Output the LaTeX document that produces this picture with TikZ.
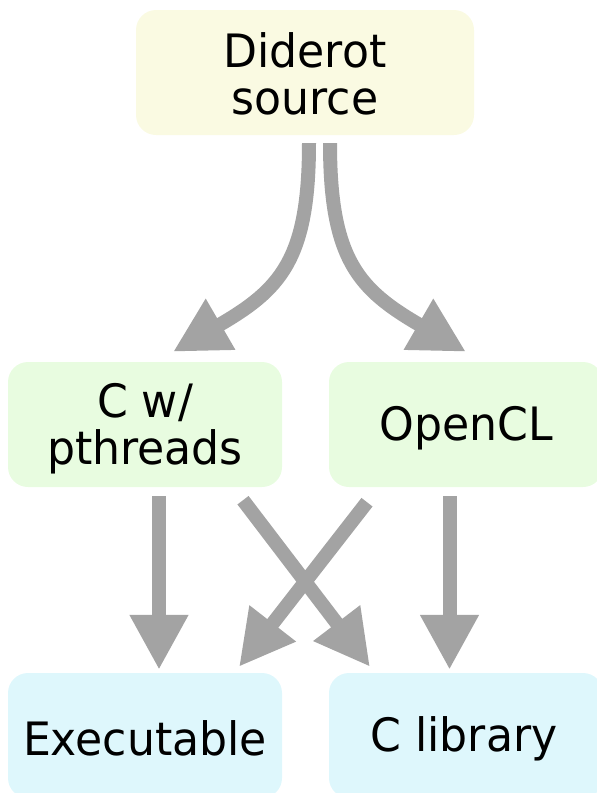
\documentclass[tikz,border=0pt]{standalone}
\usepackage{fontspec}
\setmainfont{DejaVu Sans}[FakeStretch=0.96]
\usetikzlibrary{arrows.meta}

\definecolor{srcfill}{RGB}{250,250,226}
\definecolor{midfill}{RGB}{232,252,224}
\definecolor{outfill}{RGB}{222,247,252}
\definecolor{flow}{RGB}{163,163,163}

\tikzset{
  stage/.style={rounded corners=20pt, draw=none, minimum width=274pt,
    minimum height=125pt, inner sep=0pt},
  caption/.style={inner sep=0pt, align=center,
    font=\fontsize{46}{47}\selectfont},
  flowarrow/.style={draw=flow, line width=14pt,
    -{Triangle[length=55pt,width=55pt]}},
}

\begin{document}
\begin{tikzpicture}[x=1pt,y=1pt]
  \useasboundingbox (0,0) rectangle (597,-793);
  \clip (0,0) rectangle (597,-793);

  % boxes
  \node[stage, fill=srcfill, minimum width=338pt] (src) at (305,-72.5) {};
  \node[stage, fill=midfill] (cw)  at (145,-424.5) {};
  \node[stage, fill=midfill] (ocl) at (466,-424.5) {};
  \node[stage, fill=outfill] (exe)  at (145,-735.5) {};
  \node[stage, fill=outfill] (clib) at (466,-735.5) {};

  % box texts
  \node[caption] (src-t)  at ([yshift=-1pt]src.center) {Diderot\\source};
  \node[caption] (cw-t)   at ([yshift=-4pt]cw.center) {C w/\\pthreads};
  \node[caption] (ocl-t)  at ([yshift=-4pt]ocl.center) {OpenCL};
  \node[caption] (exe-t)  at ([yshift=-3pt]exe.center) {Executable};
  \node[caption] (clib-t) at ([xshift=-2pt,yshift=-3pt]clib.center) {C library};

  % source to the two back ends
  \draw[flowarrow] ([xshift=4pt,yshift=-8pt]src.south)
    .. controls +(0,-117) and +(107,62) .. ([xshift=28pt,yshift=10pt]cw.north);
  \draw[flowarrow] ([xshift=25pt,yshift=-8pt]src.south)
    .. controls +(0,-117) and +(-107,62) .. ([yshift=10pt]ocl.north);

  % back ends to outputs
  \draw[flowarrow] ([xshift=14pt,yshift=-9pt]cw.south) -- ([xshift=14pt,yshift=3pt]exe.north);
  \draw[flowarrow] ([xshift=-16.5pt,yshift=-9pt]ocl.south) -- ([xshift=-16.5pt,yshift=3pt]clib.north);
  \draw[flowarrow] ([xshift=98pt,yshift=-13pt]cw.south) -- ([xshift=-96pt,yshift=6pt]clib.north);
  \draw[flowarrow] ([xshift=-99pt,yshift=-15pt]ocl.south) -- ([xshift=94pt,yshift=6pt]exe.north);
\end{tikzpicture}
\end{document}
